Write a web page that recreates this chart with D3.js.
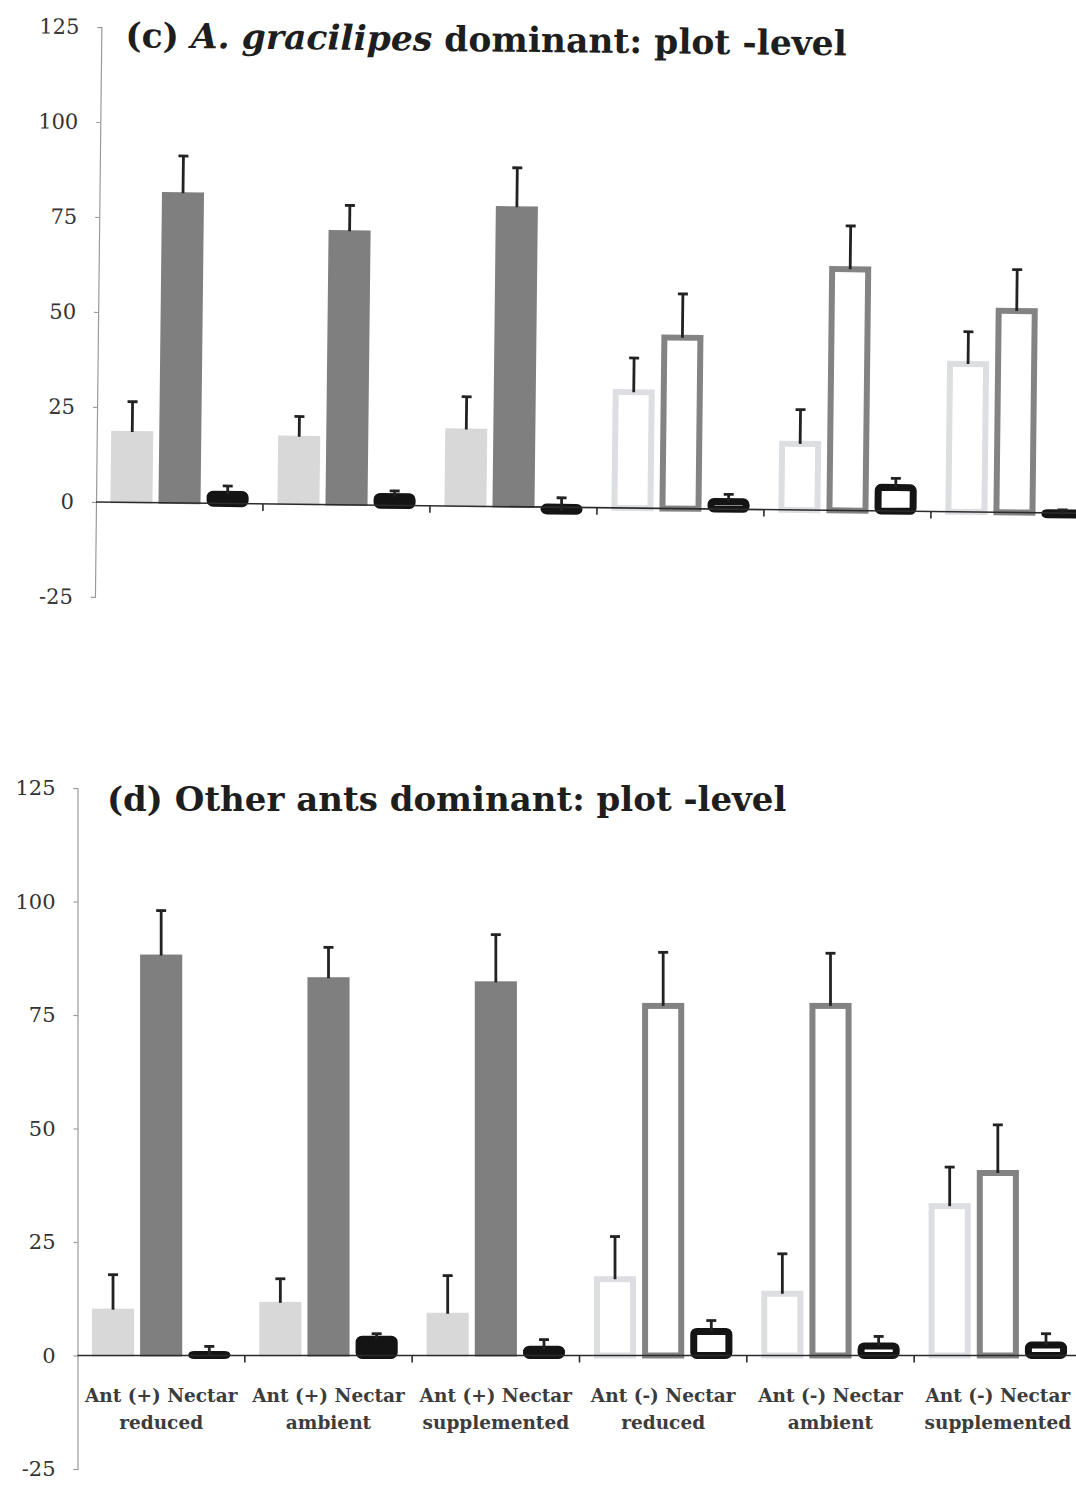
<!DOCTYPE html>
<html>
<head>
<meta charset="utf-8">
<script src="https://cdn.jsdelivr.net/npm/d3@7"></script>
<style>
  body { margin: 0; background: #ffffff; }
  svg { display: block; }
</style>
</head>
<body>
<svg id="chart" width="1076" height="1485"></svg>
<script>
// Treatment categories (two-line axis labels)
const categories = [
  "Ant (+) Nectar reduced",
  "Ant (+) Nectar ambient",
  "Ant (+) Nectar supplemented",
  "Ant (-) Nectar reduced",
  "Ant (-) Nectar ambient",
  "Ant (-) Nectar supplemented"
];
const labelLine1 = ["Ant (+) Nectar", "Ant (+) Nectar", "Ant (+) Nectar", "Ant (-) Nectar", "Ant (-) Nectar", "Ant (-) Nectar"];
const labelLine2 = ["reduced", "ambient", "supplemented", "reduced", "ambient", "supplemented"];

// Three response series per treatment
const seriesKeys = ["light", "dark", "black"];

// Y axis ticks
const yTicks = [-25, 0, 25, 50, 75, 100, 125];

// Panel (c): A. gracilipes dominant, plot-level
const cLight    = [18.5, 17.8, 20.2, 30.5, 17.4, 38.9];
const cLightErr = [8.0, 5.3, 8.6, 9.0, 9.0, 8.5];
const cDark     = [81.5, 72.0, 78.8, 45.0, 63.5, 53.0];
const cDarkErr  = [9.8, 6.8, 10.4, 11.5, 11.4, 10.9];
const cBlack    = [2.4, 2.3, -1.0, 2.0, 6.2, -0.5];
const cBlackErr = [2.2, 1.5, 3.5, 1.9, 2.4, 1.3];

// Panel (d): other ants dominant, plot-level
const dLight    = [10.1, 11.6, 9.2, 16.8, 13.6, 32.9];
const dLightErr = [7.7, 5.3, 8.4, 9.4, 8.8, 8.6];
const dDark     = [88.1, 83.1, 82.2, 77.0, 77.0, 40.2];
const dDarkErr  = [9.9, 6.8, 10.5, 11.8, 11.6, 10.6];
const dBlack    = [0.2, 3.6, 1.4, 5.3, 2.1, 2.3];
const dBlackErr = [1.8, 1.2, 2.1, 2.4, 2.1, 2.5];

const colors = {
  light: { filled: "#d8d8d8", outline: "#dcdee2" },
  dark:  { filled: "#7f7f7f", outline: "#838383" },
  black: { filled: "#141414", outline: "#141414" }
};

const svg = d3.select("#chart");

function drawPanel(g, cfg) {
  const x = d3.scaleBand().domain(categories).range([cfg.x0, cfg.x1]);
  const xs = d3.scaleBand().domain(seriesKeys).range([0, x.bandwidth()])
    .paddingInner(0.125).paddingOuter(0.3);
  const y = d3.scaleLinear().domain([-25, 125]).range([cfg.yBottom, cfg.yTop]);

  // Y axis
  const yAxis = d3.axisLeft(y).tickValues(yTicks).tickSize(4).tickSizeOuter(4).tickPadding(18)
    .tickFormat(d => String(d));
  const ya = g.append("g").attr("transform", `translate(${cfg.x0},0)`).call(yAxis);
  ya.select(".domain").attr("stroke", "#9a9a9a").attr("stroke-width", 1.2);
  ya.selectAll(".tick line").attr("stroke", "#9a9a9a").attr("stroke-width", 1.2);
  ya.selectAll(".tick text")
    .attr("font-family", "'DejaVu Serif', serif")
    .attr("font-size", 21)
    .attr("fill", "#333");

  // Bars
  const rows = [];
  categories.forEach((cat, i) => {
    const outline = cat.includes("(-)");
    seriesKeys.forEach(k => {
      rows.push({ cat, k, outline, v: cfg.values[k][i], e: cfg.errors[k][i] });
    });
  });

  const strokeW = d => d.k === "black" ? 7 : (d.outline ? 6 : 2);

  g.append("g").selectAll("rect").data(rows).join("rect")
    .attr("x", d => x(d.cat) + xs(d.k) + strokeW(d) / 2)
    .attr("width", d => xs.bandwidth() - strokeW(d))
    .attr("y", d => y(Math.max(d.v, 0)))
    .attr("height", d => Math.abs(y(d.v) - y(0)))
    .attr("rx", d => d.k === "black" ? 3 : 0)
    .attr("fill", d => d.outline ? "#ffffff" : colors[d.k].filled)
    .attr("stroke", d => d.outline ? colors[d.k].outline : colors[d.k].filled)
    .attr("stroke-width", strokeW);

  // X axis line with ticks at category boundaries
  const xa = g.append("g");
  xa.append("line")
    .attr("x1", cfg.x0).attr("x2", cfg.x1)
    .attr("y1", y(0)).attr("y2", y(0))
    .attr("stroke", "#2b2b2b").attr("stroke-width", 1.6);
  xa.selectAll("line.tick").data(categories.slice(1)).join("line")
    .attr("class", "tick")
    .attr("x1", d => x(d)).attr("x2", d => x(d))
    .attr("y1", y(0)).attr("y2", y(0) + 7)
    .attr("stroke", "#2b2b2b").attr("stroke-width", 1.6);

  // Error bars (upper only)
  const eb = g.append("g").attr("stroke", "#222").attr("stroke-width", 2.8);
  const cx = d => x(d.cat) + xs(d.k) + xs.bandwidth() / 2;
  eb.selectAll("line.stem").data(rows).join("line")
    .attr("class", "stem")
    .attr("x1", cx).attr("x2", cx)
    .attr("y1", d => y(d.v)).attr("y2", d => y(d.v + d.e));
  eb.selectAll("line.cap").data(rows).join("line")
    .attr("class", "cap")
    .attr("x1", d => cx(d) - 5).attr("x2", d => cx(d) + 5)
    .attr("y1", d => y(d.v + d.e)).attr("y2", d => y(d.v + d.e));

  // Category labels
  if (cfg.showLabels) {
    const lab = g.append("g")
      .attr("font-family", "'DejaVu Serif', serif")
      .attr("font-weight", "bold")
      .attr("font-size", 18.5)
      .attr("fill", "#3c3c3c")
      .attr("text-anchor", "middle");
    categories.forEach((cat, i) => {
      const t = lab.append("text").attr("x", x(cat) + x.bandwidth() / 2);
      t.append("tspan").attr("x", x(cat) + x.bandwidth() / 2).attr("y", cfg.labelY1).text(labelLine1[i]);
      t.append("tspan").attr("x", x(cat) + x.bandwidth() / 2).attr("y", cfg.labelY2).text(labelLine2[i]);
    });
  }
}

// Panel (c)
const gC = svg.append("g").attr("transform", "rotate(0.65,96,502)");
drawPanel(gC, {
  x0: 96, x1: 1098, yTop: 27, yBottom: 597,
  values: { light: cLight, dark: cDark, black: cBlack },
  errors: { light: cLightErr, dark: cDarkErr, black: cBlackErr },
  showLabels: false
});
const titleC = gC.append("text")
  .attr("x", 120).attr("y", 47)
  .attr("font-family", "'DejaVu Serif', serif")
  .attr("font-weight", "bold")
  .attr("font-size", 34.5)
  .attr("fill", "#1e1e1e");
titleC.append("tspan").text("(c) ");
titleC.append("tspan").attr("font-style", "italic").text("A. gracilipes");
titleC.append("tspan").text(" dominant: plot -level");

// Panel (d)
const gD = svg.append("g");
drawPanel(gD, {
  x0: 77.5, x1: 1081.5, yTop: 788, yBottom: 1469,
  values: { light: dLight, dark: dDark, black: dBlack },
  errors: { light: dLightErr, dark: dDarkErr, black: dBlackErr },
  showLabels: true, labelY1: 1402, labelY2: 1429
});
gD.append("text")
  .attr("x", 107).attr("y", 811)
  .attr("font-family", "'DejaVu Serif', serif")
  .attr("font-weight", "bold")
  .attr("font-size", 34)
  .attr("fill", "#1e1e1e")
  .text("(d) Other ants dominant: plot -level");
</script>
</body>
</html>
